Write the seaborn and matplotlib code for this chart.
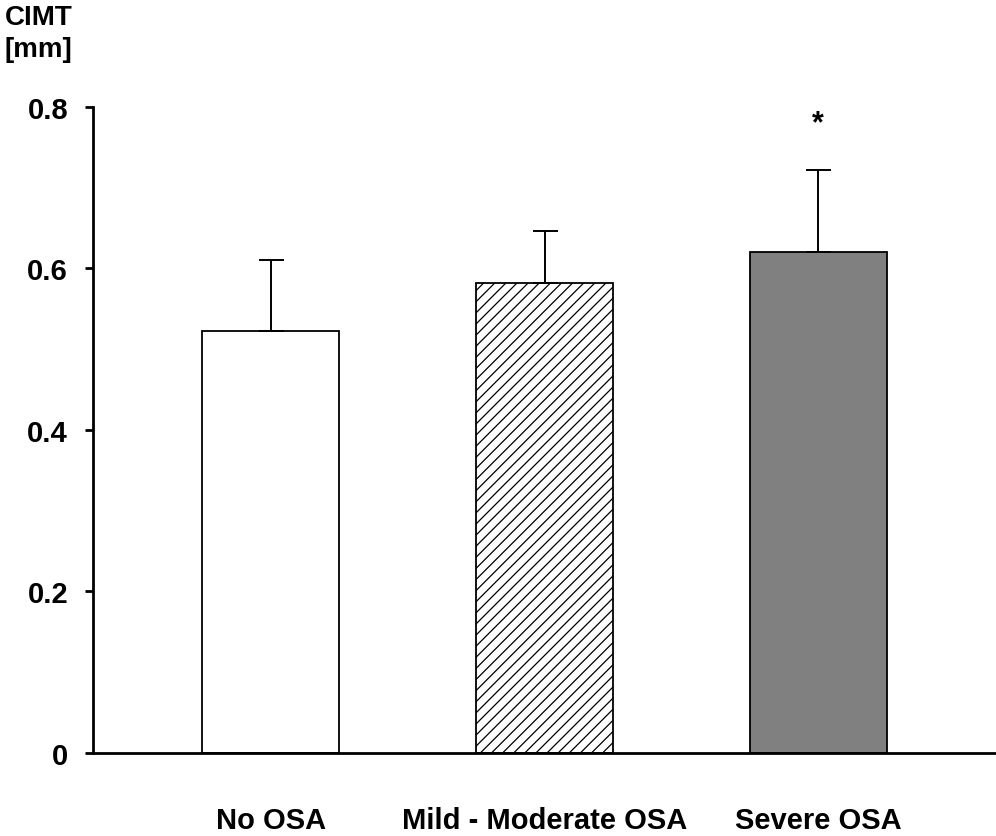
import numpy as np
import pandas as pd
import matplotlib.pyplot as plt
import seaborn as sns

# values
groups = ["No OSA", "Mild - Moderate OSA", "Severe OSA"]
cimt_mean = [0.523, 0.582, 0.621]
cimt_sd = [0.088, 0.064, 0.101]
fills = ["#ffffff", "#ffffff", "#808080"]
hatches = ["", "///", ""]
signif = ["", "", "*"]

sns.set_style("white")
plt.rcParams["font.family"] = ["Liberation Sans", "DejaVu Sans"]
plt.rcParams["font.weight"] = "bold"
plt.rcParams["text.color"] = "black"
plt.rcParams["xtick.color"] = "black"
plt.rcParams["ytick.color"] = "black"
plt.rcParams["hatch.linewidth"] = 0.9

df = pd.DataFrame({"group": groups, "cimt": cimt_mean})

fig = plt.figure(figsize=(9.96, 8.37), dpi=100)
ax = fig.add_axes([0.0934, 0.0992, 0.9066, 0.7718])

sns.barplot(data=df, x="group", y="cimt", hue="group", palette=fills,
            width=0.5, edgecolor="black", linewidth=1.3, legend=False,
            errorbar=None, ax=ax)

for patch, h in zip(ax.patches, hatches):
    patch.set_hatch(h)

x = np.arange(len(groups))
ax.errorbar(x, cimt_mean, yerr=[np.zeros(len(groups)), cimt_sd], fmt="none",
            ecolor="black", elinewidth=1.4, capsize=9, capthick=1.4)

# significance marker above the error bar
for xi, m, s, lab in zip(x, cimt_mean, cimt_sd, signif):
    if lab:
        ax.text(xi, m + s + 0.058, lab, ha="center", va="center",
                fontsize=22, fontweight="bold", color="black")

ax.set_xlim(-0.65, 2.65)
ax.set_ylim(0, 0.8)
ax.set_yticks([0, 0.2, 0.4, 0.6, 0.8])
ax.set_yticklabels(["0", "0.2", "0.4", "0.6", "0.8"])
ax.set_xlabel("")
ax.set_ylabel("")

ax.spines["top"].set_visible(False)
ax.spines["right"].set_visible(False)
for sp in ["left", "bottom"]:
    ax.spines[sp].set_linewidth(2)
    ax.spines[sp].set_color("black")

ax.tick_params(axis="y", direction="out", length=6, width=2, left=True,
               labelsize=21, pad=12, labelcolor="black")
ax.tick_params(axis="x", length=0, labelsize=21, pad=38, labelcolor="black")
for t in ax.get_xticklabels() + ax.get_yticklabels():
    t.set_fontweight("bold")

fig.text(0.005, 0.994, "CIMT\n[mm]", ha="left", va="top", fontsize=20,
         fontweight="bold", linespacing=1.3, color="black")

fig.savefig("out.png", dpi=100)
